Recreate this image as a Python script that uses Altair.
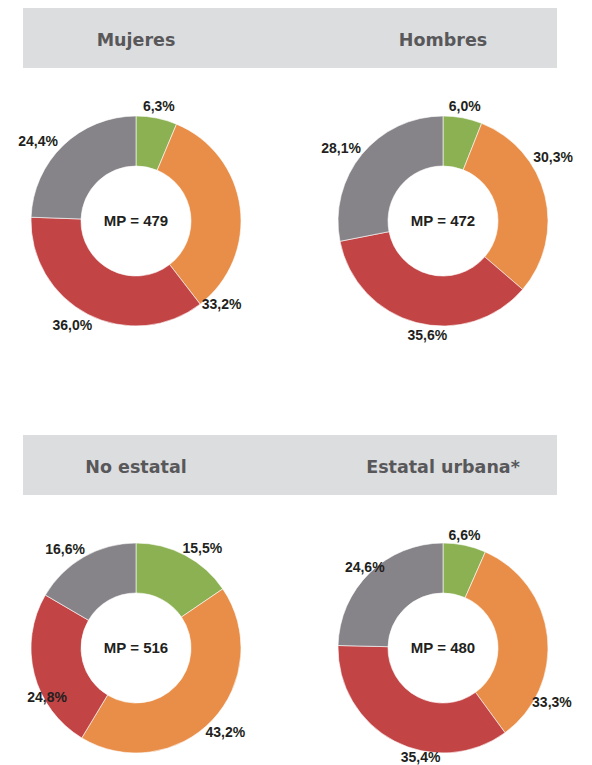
import math
import altair as alt
import pandas as pd

# ---------------- data ----------------
PANELS = ["Mujeres", "Hombres", "No estatal", "Estatal urbana*"]
MP = [479, 472, 516, 480]
NIVELES = ["Satisfactorio", "En proceso", "En inicio", "Previo al inicio"]
MUJERES = [6.3, 33.2, 36.0, 24.4]
HOMBRES = [6.0, 30.3, 35.6, 28.1]
NO_ESTATAL = [15.5, 43.2, 24.8, 16.6]
ESTATAL_URBANA = [6.6, 33.3, 35.4, 24.6]
VALUES = [MUJERES, HOMBRES, NO_ESTATAL, ESTATAL_URBANA]

# ---------------- layout / style ----------------
COLORS = ["#8bb153", "#e88e49", "#c24445", "#878489"]
# label placement tweaks: angular nudge (degrees) from slice mid-angle, radial nudge (px)
LABEL_NUDGE = [[0, 52, 4, -7], [0, -16, -7, -4], [6, 0, -15, -6], [-1, 33, -16, 0]]
LABEL_RADIAL = [[-2, 2, 5, 8], [-2, 9, -2, 7], [1, 5, -16, 3], [-4, 4, -6, -6]]
LABEL_R = 118
FONT = "Liberation Sans"
HEAD_FONT = "DejaVu Sans"
PANEL_W, PANEL_H = 226, 240
COL_GAP, ROW_GAP = 81, 187
HEADER_TOP, HEADER_BOTTOM, HEADER_BASE = -93, -33, -55


def fmt(v):
    return f"{v:.1f}".replace(".", ",") + "%"


def panel(i):
    df = pd.DataFrame({
        "nivel": NIVELES,
        "valor": VALUES[i],
        "orden": list(range(len(NIVELES))),
        "ajuste": LABEL_NUDGE[i],
        "radial": LABEL_RADIAL[i],
        "etiqueta": [fmt(v) for v in VALUES[i]],
    })
    base = alt.Chart(df)
    arcs = base.mark_arc(innerRadius=55, outerRadius=105, stroke="white", strokeWidth=0.6).encode(
        theta=alt.Theta("valor:Q", stack=True),
        color=alt.Color("nivel:N", scale=alt.Scale(domain=NIVELES, range=COLORS), legend=None),
        order=alt.Order("orden:Q"),
    )
    labels = (
        base.transform_window(cum="sum(valor)", sort=[alt.SortField("orden")])
        .transform_joinaggregate(total="sum(valor)")
        .transform_calculate(
            ang="(datum.cum - datum.valor / 2) / datum.total * 360 + datum.ajuste",
            rad=f"{LABEL_R} + datum.radial",
        )
        .mark_text(font=FONT, fontSize=14, fontWeight="bold", color="#231f20",
                   align="center", baseline="middle")
        .encode(
            theta=alt.Theta("ang:Q", scale=alt.Scale(domain=[0, 360], range=[0, 2 * math.pi])),
            radius=alt.Radius("rad:Q", scale=None),
            text="etiqueta:N",
        )
    )
    center = alt.Chart(pd.DataFrame({"mp": [f"MP = {MP[i]}"]})).mark_text(
        font=FONT, fontSize=15, fontWeight="bold", color="#231f20", align="center", baseline="middle"
    ).encode(text="mp:N")
    title = alt.Chart(pd.DataFrame({"titulo": [PANELS[i]]})).mark_text(
        font=HEAD_FONT, fontSize=17.5, fontWeight="bold", color="#58585a", align="center",
        baseline="alphabetic"
    ).encode(y=alt.value(HEADER_BASE), text="titulo:N")
    layers = []
    if i % 2 == 0:
        band = alt.Chart(pd.DataFrame({"t": [0]})).mark_rect(color="#dcdddf").encode(
            x=alt.value(0), x2=alt.value(2 * PANEL_W + COL_GAP + 1),
            y=alt.value(HEADER_TOP), y2=alt.value(HEADER_BOTTOM),
        )
        layers.append(band)
    layers += [title, arcs, labels, center]
    return alt.layer(*layers).resolve_scale(theta="independent").properties(
        width=PANEL_W, height=PANEL_H
    )


chart = (
    alt.concat(*[panel(i) for i in range(4)], columns=2,
               spacing={"row": ROW_GAP, "column": COL_GAP}, bounds="flush")
    .properties(padding={"left": 10, "top": 0, "right": 0, "bottom": 0})
    .configure_view(stroke=None)
)

chart.save("out.html", embed_options={"renderer": "svg", "actions": False})
